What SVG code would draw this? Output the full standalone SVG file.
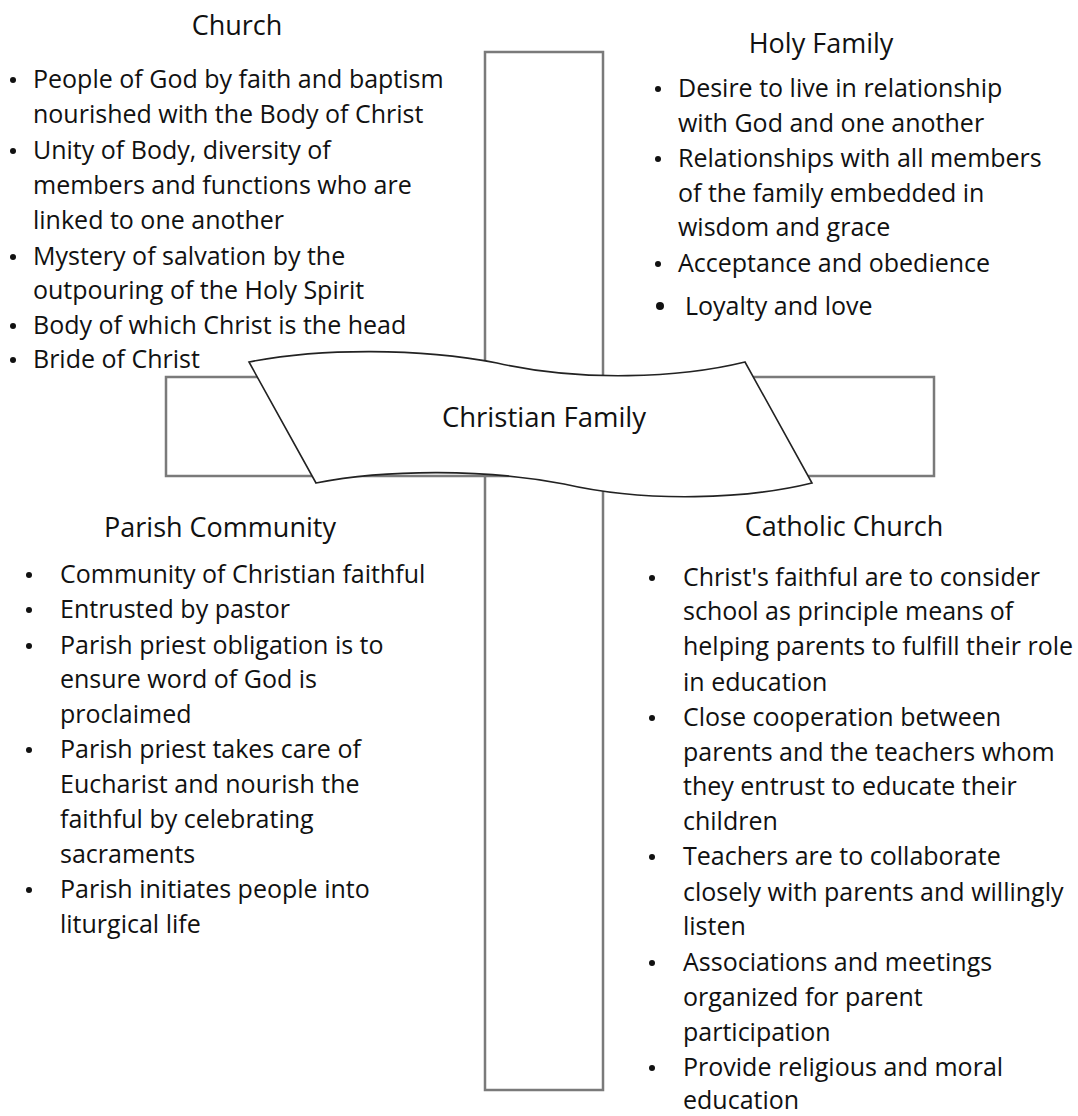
<svg xmlns="http://www.w3.org/2000/svg" width="1078" height="1116" viewBox="0 0 1078 1116">
<style>
  text { font-family: "Open Sans", Lato, "Liberation Sans", sans-serif; font-size: 25px; fill: #111; font-variant-ligatures: none; }
  .title { text-anchor: middle; font-size: 27px; }
  .bar { fill: #fff; stroke: #7a7a7a; stroke-width: 2.5; }
  .banner { fill: #fff; stroke: #222; stroke-width: 1.6; stroke-linejoin: miter; }
  .big { font-size: 27.5px; text-anchor: middle; }
  .b { fill: #111; }
</style>
<defs>
  <circle id="dot" class="b" r="3"/>
</defs>
<rect width="1078" height="1116" fill="#fff"/>

<g id="cross">
  <rect class="bar" x="485" y="52" width="118" height="1038"/>
  <rect class="bar" x="166" y="377" width="768" height="99"/>
</g>

<g id="christian-family">
  <path class="banner" d="M249,362 C320,348 420,348 497,363 C580,382 680,378 745,362 L812,483 C747,499 647,503 564,484 C487,469 387,469 316,483 Z"/>
  <text class="big" x="544" y="427">Christian Family</text>
</g>

<g id="church">
  <text class="title" x="237" y="35">Church</text>
  <use href="#dot" x="13" y="80"/><text x="33" y="88">People of God by faith and baptism</text>
  <text x="33" y="123">nourished with the Body of Christ</text>
  <use href="#dot" x="13" y="151"/><text x="33" y="159">Unity of Body, diversity of</text>
  <text x="33" y="194">members and functions who are</text>
  <text x="33" y="229">linked to one another</text>
  <use href="#dot" x="13" y="257"/><text x="33" y="265">Mystery of salvation by the</text>
  <text x="33" y="299">outpouring of the Holy Spirit</text>
  <use href="#dot" x="13" y="326"/><text x="33" y="334">Body of which Christ is the head</text>
  <use href="#dot" x="13" y="360"/><text x="33" y="368">Bride of Christ</text>
</g>

<g id="holy-family">
  <text class="title" x="821" y="53">Holy Family</text>
  <use href="#dot" x="658" y="89"/><text x="678" y="97">Desire to live in relationship</text>
  <text x="678" y="132">with God and one another</text>
  <use href="#dot" x="658" y="159"/><text x="678" y="167">Relationships with all members</text>
  <text x="678" y="202">of the family embedded in</text>
  <text x="678" y="236">wisdom and grace</text>
  <use href="#dot" x="658" y="264"/><text x="678" y="272">Acceptance and obedience</text>
  <circle class="b" cx="660" cy="306" r="4"/><text x="685" y="315">Loyalty and love</text>
</g>

<g id="parish-community">
  <text class="title" x="220" y="537">Parish Community</text>
  <use href="#dot" x="29" y="575"/><text x="60" y="583">Community of Christian faithful</text>
  <use href="#dot" x="29" y="610"/><text x="60" y="618">Entrusted by pastor</text>
  <use href="#dot" x="29" y="646"/><text x="60" y="654">Parish priest obligation is to</text>
  <text x="60" y="688">ensure word of God is</text>
  <text x="60" y="723">proclaimed</text>
  <use href="#dot" x="29" y="750"/><text x="60" y="758">Parish priest takes care of</text>
  <text x="60" y="793">Eucharist and nourish the</text>
  <text x="60" y="828">faithful by celebrating</text>
  <text x="60" y="863">sacraments</text>
  <use href="#dot" x="29" y="890"/><text x="60" y="898">Parish initiates people into</text>
  <text x="60" y="933">liturgical life</text>
</g>

<g id="catholic-church">
  <text class="title" x="844" y="536">Catholic Church</text>
  <use href="#dot" x="652" y="578"/><text x="683" y="586">Christ's faithful are to consider</text>
  <text x="683" y="620">school as principle means of</text>
  <text x="683" y="655">helping parents to fulfill their role</text>
  <text x="683" y="691">in education</text>
  <use href="#dot" x="652" y="718"/><text x="683" y="726">Close cooperation between</text>
  <text x="683" y="761">parents and the teachers whom</text>
  <text x="683" y="795">they entrust to educate their</text>
  <text x="683" y="830">children</text>
  <use href="#dot" x="652" y="857"/><text x="683" y="865">Teachers are to collaborate</text>
  <text x="683" y="901">closely with parents and willingly</text>
  <text x="683" y="935">listen</text>
  <use href="#dot" x="652" y="963"/><text x="683" y="971">Associations and meetings</text>
  <text x="683" y="1006">organized for parent</text>
  <text x="683" y="1041">participation</text>
  <use href="#dot" x="652" y="1068"/><text x="683" y="1076">Provide religious and moral</text>
  <text x="683" y="1109">education</text>
</g>
</svg>
